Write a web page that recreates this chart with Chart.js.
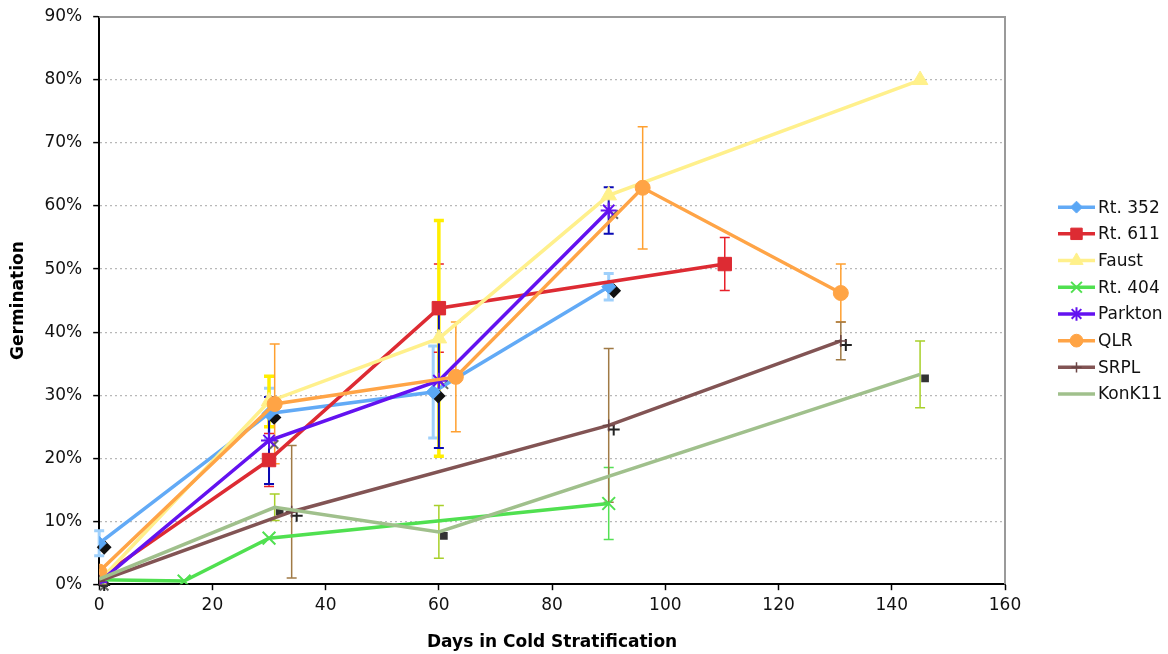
<!DOCTYPE html>
<html>
<head>
<meta charset="utf-8">
<title>Germination vs cold stratification</title>
<script src="https://cdn.jsdelivr.net/npm/chart.js@4.4.1/dist/chart.umd.min.js"></script>
<style>
  html, body { margin: 0; padding: 0; background: #fff; }
</style>
</head>
<body>
<canvas id="myChart" width="1168" height="654"></canvas>
<script>
// data (germination in %)
const seriesNames = ["Rt. 352", "Rt. 611", "Faust", "Rt. 404", "Parkton", "QLR", "SRPL", "KonK11"];

const rt352Days = [0, 30, 59, 90];
const rt352Germ = [6.5, 27.1, 30.5, 47.2];
const rt352Err = [2.0, 4.0, 7.3, 2.1];

const rt611Days = [0, 30, 60, 110.5];
const rt611Germ = [1.0, 19.7, 43.8, 50.8];
const rt611Err = [null, 4.2, 7.0, 4.2];

const faustDays = [0, 30, 60, 90, 145];
const faustGerm = [0.5, 29.0, 39.0, 61.7, 80.0];
const faustErr = [null, 4.0, 18.7, null, null];

const rt404Days = [0, 15, 30, 90];
const rt404Germ = [0.7, 0.5, 7.3, 12.8];
const rt404Err = [null, null, null, 5.7];

const parktonDays = [0, 30, 60, 90];
const parktonGerm = [0.3, 22.8, 32.3, 59.3];
const parktonErr = [null, 6.9, 10.7, 3.7];

const qlrDays = [0, 31, 63, 96, 131];
const qlrGerm = [2.0, 28.6, 32.9, 62.9, 46.2];
const qlrErr = [null, 9.5, 8.7, 9.7, 4.6];

const srplDays = [0, 34, 90, 131];
const srplGerm = [0.5, 11.5, 25.2, 38.6];
const srplErr = [null, 10.5, 12.2, 3.0];

const konkDays = [0, 31, 60, 145];
const konkGerm = [0.8, 12.2, 8.3, 33.3];
const konkErr = [null, 2.1, 4.2, 5.3];

const xTicks = [0, 20, 40, 60, 80, 100, 120, 140, 160];
const yTicks = [0, 10, 20, 30, 40, 50, 60, 70, 80, 90];

const FONT = "'DejaVu Sans', Verdana, sans-serif";

// styles per series (same order as seriesNames)
const styles = [
  { line: "#62aaf6", fill: "#5aa7f5", point: "rectRot", r: 7, bw: 1, err: "#9fd0fb", errW: 3, shadow: "rectRot", shadowColor: "#111" },
  { line: "#dd2b33", fill: "#dd2b33", point: "rect", r: 9.5, bw: 1, err: "#e8202a", errW: 1.5 },
  { line: "#fff08c", fill: "#fff18a", point: "triangle", r: 9, bw: 1, err: "#ffee00", errW: 3.5 },
  { line: "#50e050", fill: "#50e050", point: "crossRot", r: 9, bw: 2, err: "#55e055", errW: 1.5 },
  { line: "#6312f0", fill: "#6312f0", point: "star", r: 8, bw: 2, err: "#0a0ab4", errW: 2, shadow: "crossRot", shadowColor: "#666" },
  { line: "#ffa446", fill: "#ffa445", point: "circle", r: 7.5, bw: 1, err: "#ffa030", errW: 1.5 },
  { line: "#825454", fill: "#6a4444", point: "cross", r: 6, bw: 1.5, err: "#a07a45", errW: 1.5, shadow: "cross", shadowColor: "#222" },
  { line: "#a0c08c", fill: "#a0c08c", point: "circle", r: 0, bw: 0, err: "#a8d02a", errW: 1.5, shadow: "rect", shadowColor: "#333" },
];

const allDays = [rt352Days, rt611Days, faustDays, rt404Days, parktonDays, qlrDays, srplDays, konkDays];
const allGerm = [rt352Germ, rt611Germ, faustGerm, rt404Germ, parktonGerm, qlrGerm, srplGerm, konkGerm];
const allErr = [rt352Err, rt611Err, faustErr, rt404Err, parktonErr, qlrErr, srplErr, konkErr];

// build the datasets from the arrays
const datasets = seriesNames.map((name, i) => {
  const s = styles[i];
  return {
    label: name,
    data: allDays[i].map((d, j) => ({ x: d, y: allGerm[i][j] })),
    borderColor: s.line,
    backgroundColor: s.fill,
    borderWidth: 3.5,
    tension: 0,
    pointStyle: s.point,
    pointRadius: s.r,
    pointBorderColor: s.point === "crossRot" || s.point === "star" || s.point === "cross" ? s.fill : s.line,
    pointBackgroundColor: s.fill,
    pointBorderWidth: s.bw,
    order: seriesNames.length - i,
  };
});

// error bars, drawn behind the series
const errorBars = {
  id: "errorBars",
  beforeDatasetsDraw(chart) {
    const { ctx, scales } = chart;
    ctx.save();
    allErr.forEach((errs, i) => {
      const s = styles[i];
      ctx.strokeStyle = s.err;
      ctx.lineWidth = s.errW;
      errs.forEach((e, j) => {
        if (e == null) return;
        const x = scales.x.getPixelForValue(allDays[i][j]);
        const yTop = scales.y.getPixelForValue(allGerm[i][j] + e);
        const yBot = scales.y.getPixelForValue(allGerm[i][j] - e);
        ctx.beginPath();
        ctx.moveTo(x, yTop);
        ctx.lineTo(x, yBot);
        ctx.moveTo(x - 5, yTop);
        ctx.lineTo(x + 5, yTop);
        ctx.moveTo(x - 5, yBot);
        ctx.lineTo(x + 5, yBot);
        ctx.stroke();
      });
    });

    // the dark offset copies of some markers
    allDays.forEach((days, i) => {
      const s = styles[i];
      if (!s.shadow) return;
      const meta = chart.getDatasetMeta(i);
      meta.data.forEach((pt) => {
        ctx.fillStyle = s.shadowColor;
        ctx.strokeStyle = s.shadowColor;
        ctx.lineWidth = 2;
        Chart.helpers.drawPoint(ctx, { pointStyle: s.shadow, radius: s.shadow === "rect" ? 4 : 6, borderWidth: 2, rotation: 0 }, pt.x + 5, pt.y + 4);
      });
    });
    ctx.restore();
  },
};

// grey frame on the top and right of the plot area
const plotFrame = {
  id: "plotFrame",
  beforeDatasetsDraw(chart) {
    const { ctx, chartArea: a } = chart;
    ctx.save();
    ctx.strokeStyle = "#9a9a9a";
    ctx.lineWidth = 2;
    ctx.beginPath();
    ctx.moveTo(a.left, a.top);
    ctx.lineTo(a.right, a.top);
    ctx.lineTo(a.right, a.bottom);
    ctx.stroke();
    ctx.restore();
  },
};

// legend on the right: short line with the marker, then the name
const sideLegend = {
  id: "sideLegend",
  afterDraw(chart) {
    const { ctx, chartArea: a } = chart;
    const spacing = 26.7;
    const x0 = a.right + 53;
    const mid = (a.top + a.bottom) / 2;
    const y0 = mid - ((seriesNames.length - 1) * spacing) / 2;
    ctx.save();
    chart.data.datasets.forEach((ds, i) => {
      const y = y0 + i * spacing;
      ctx.strokeStyle = ds.borderColor;
      ctx.lineWidth = 3.5;
      ctx.beginPath();
      ctx.moveTo(x0, y);
      ctx.lineTo(x0 + 37, y);
      ctx.stroke();
      if (ds.pointRadius > 0) {
        ctx.fillStyle = ds.pointBackgroundColor;
        ctx.strokeStyle = ds.pointBorderColor;
        ctx.lineWidth = ds.pointBorderWidth;
        Chart.helpers.drawPoint(ctx, { pointStyle: ds.pointStyle, radius: ds.pointRadius * 0.85, borderWidth: ds.pointBorderWidth, rotation: 0 }, x0 + 18.5, y);
      }
      ctx.fillStyle = "#111";
      ctx.font = "17px " + FONT;
      ctx.textBaseline = "middle";
      ctx.textAlign = "left";
      ctx.fillText(ds.label, x0 + 40, y + 1);
    });
    ctx.restore();
  },
};

const ctx = document.getElementById("myChart");

new Chart(ctx, {
  type: "line",
  data: { datasets: datasets },
  plugins: [errorBars, plotFrame, sideLegend],
  options: {
    responsive: false,
    animation: false,
    layout: { padding: { left: 8, right: 163, top: 17, bottom: 1 } },
    plugins: {
      legend: { display: false },
      tooltip: { enabled: false },
    },
    scales: {
      x: {
        type: "linear",
        min: 0,
        max: 160,
        afterBuildTicks: (axis) => { axis.ticks = xTicks.map((v) => ({ value: v })); },
        ticks: { color: "#111", font: { family: FONT, size: 17 }, padding: 5, maxRotation: 0 },
        grid: { drawOnChartArea: false, drawTicks: true, tickLength: 6, tickColor: "#000", tickWidth: 1.5 },
        border: { color: "#000", width: 2 },
        title: {
          display: true,
          text: "Days in Cold Stratification",
          color: "#000",
          font: { family: FONT, size: 17, weight: "bold" },
          padding: { top: 12, bottom: 0 },
        },
      },
      y: {
        type: "linear",
        min: 0,
        max: 90,
        afterBuildTicks: (axis) => { axis.ticks = yTicks.map((v) => ({ value: v })); },
        // keep the label gap from pushing the plot top down
        afterFit: (scale) => { scale.paddingTop = 4; scale.paddingBottom = 4; },
        ticks: { color: "#111", font: { family: FONT, size: 17 }, padding: 11, callback: (v) => v + "%" },
        grid: {
          color: (c) => (c.tick && (c.tick.value === 0 || c.tick.value === 90) ? "rgba(0,0,0,0)" : "#b8b8b8"),
          lineWidth: 1.2,
          tickLength: 6,
          tickColor: "#000",
          tickWidth: 1.5,
        },
        border: { color: "#000", width: 2, dash: [2, 3] },
        title: {
          display: true,
          text: "Germination",
          color: "#000",
          font: { family: FONT, size: 17, weight: "bold" },
          padding: { top: 0, bottom: 5 },
        },
      },
    },
  },
});
</script>
</body>
</html>
